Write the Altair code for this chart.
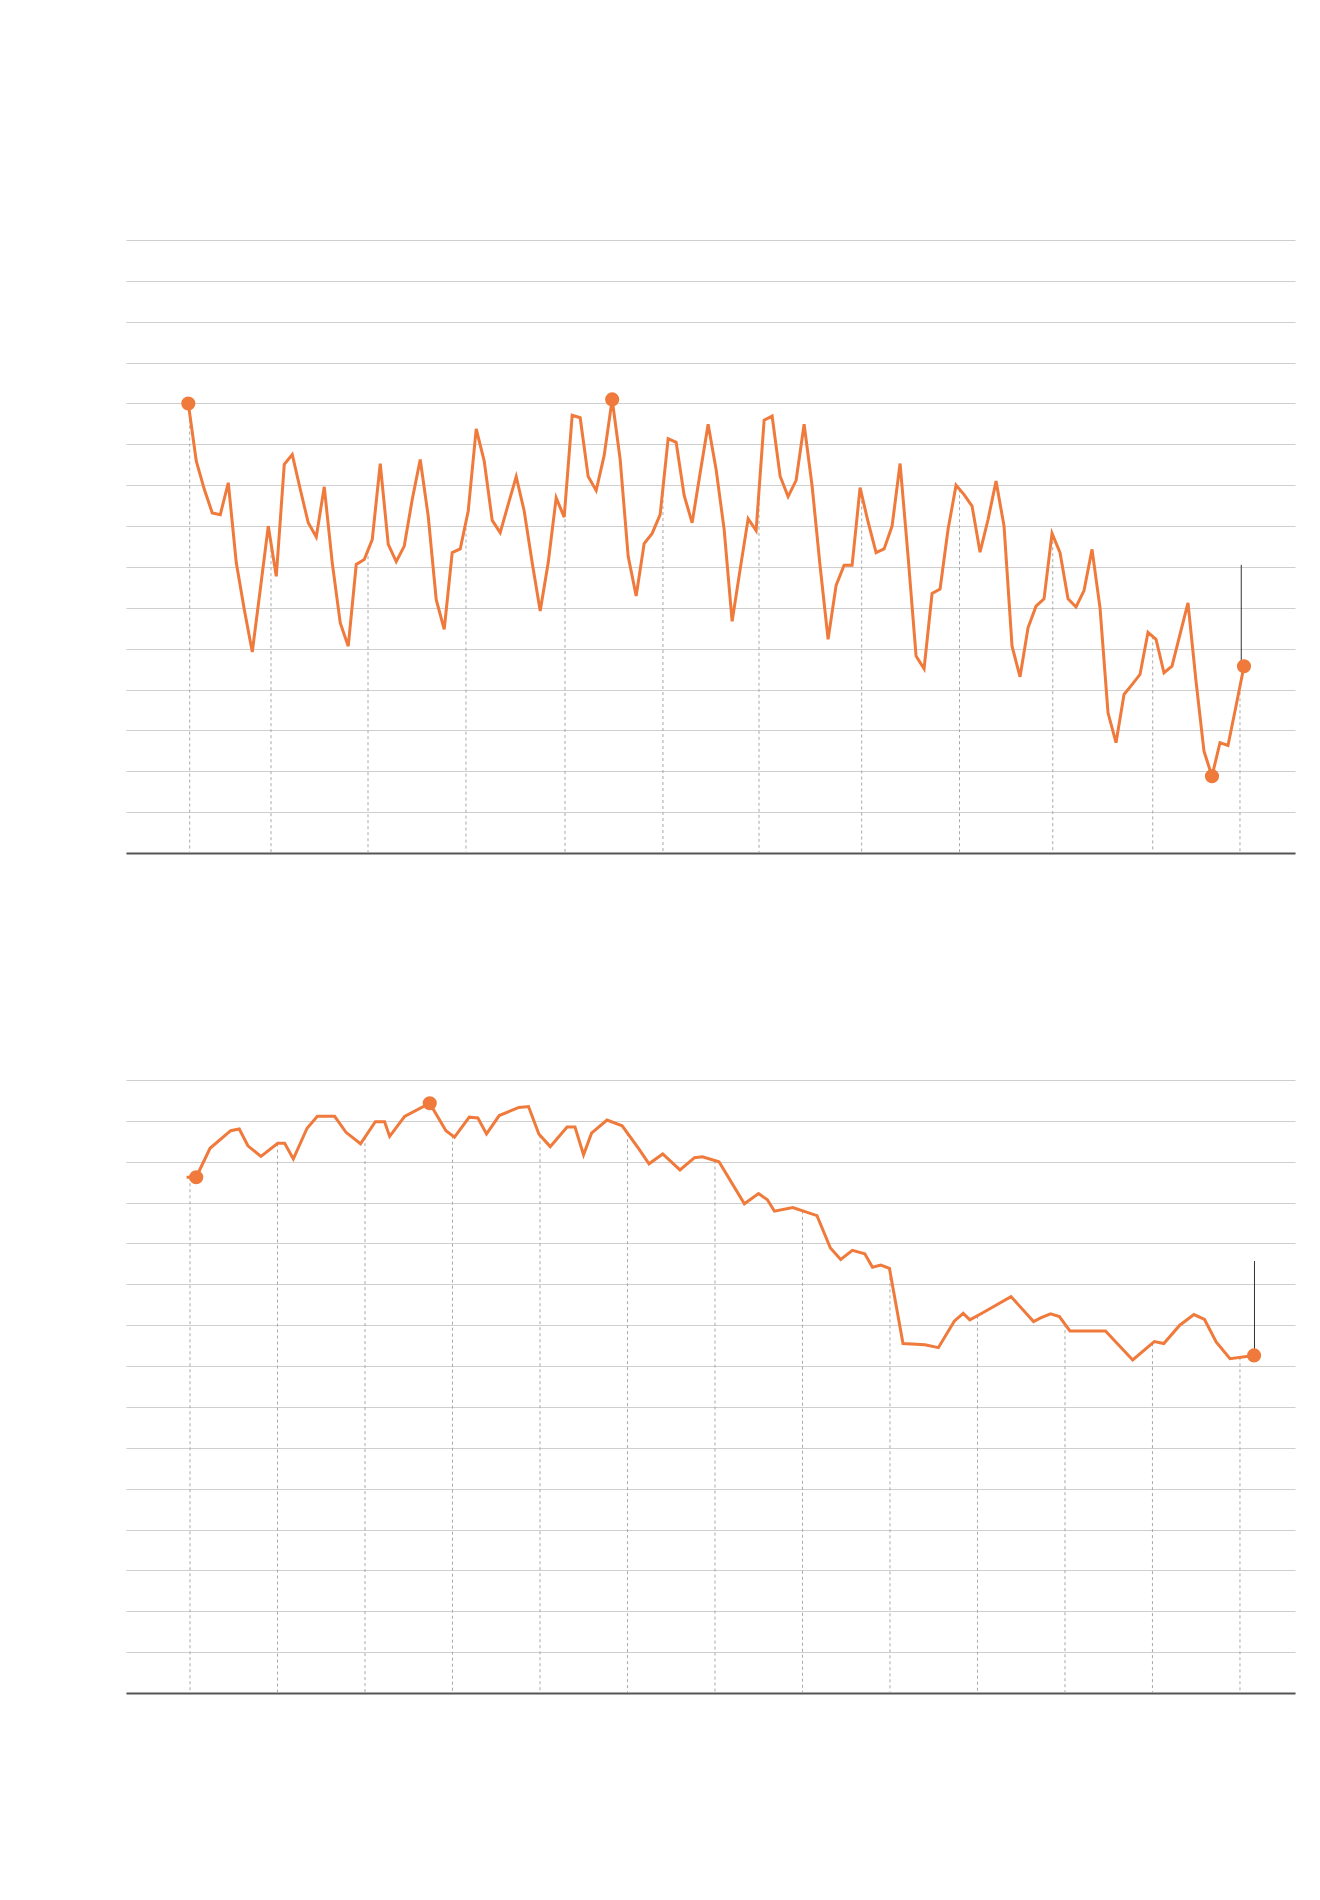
import altair as alt
import numpy as np
import pandas as pd

ORANGE = "#EF7A3B"

# ---------------- Top panel: monthly series (month index 0..132) ----------------
top_values = [
    11.0, 9.59, 8.90, 8.32, 8.28, 9.06, 7.10, 5.96, 4.92, 6.45,
    8.0, 6.77, 9.51, 9.75, 8.90, 8.08, 7.73, 8.96, 7.10, 5.63,
    5.06, 7.06, 7.18, 7.67, 9.53, 7.55, 7.13, 7.51, 8.65, 9.63,
    8.24, 6.20, 5.47, 7.35, 7.44, 8.37, 10.38, 9.59, 8.14, 7.84,
    8.53, 9.21, 8.37, 7.10, 5.92, 7.10, 8.69, 8.22, 10.71, 10.65,
    9.21, 8.87, 9.73, 11.10, 9.63, 7.26, 6.29, 7.57, 7.82, 8.28,
    10.14, 10.05, 8.75, 8.08, 9.3, 10.49, 9.38, 7.92, 5.67, 6.94,
    8.18, 7.89, 10.59, 10.69, 9.22, 8.72, 9.12, 10.49, 8.98, 7.02,
    5.23, 6.55, 7.04, 7.04, 8.94, 8.1, 7.35, 7.44, 8.0, 9.53,
    7.26, 4.82, 4.51, 6.35, 6.46, 7.92, 9.0, 8.77, 8.49, 7.36,
    8.16, 9.10, 8.0, 5.06, 4.31, 5.51, 6.04, 6.22, 7.82, 7.35,
    6.22, 6.02, 6.42, 7.43, 6.0, 3.43, 2.70, 3.88, 4.12, 4.37,
    5.40, 5.23, 4.41, 4.57, 5.35, 6.12, 4.21, 2.49, 1.88, 2.70,
    2.63, 3.59, 4.57,
]
top_months = list(range(len(top_values)))
top_ticks = [0.175, 10.34, 22.47, 34.72, 47.10, 59.35, 71.36, 84.2, 96.43, 108.09, 120.59, 131.5]
top_dots = [0, 53, 128, 132]
top_marker_x = 131.66
top_marker_range = [4.57, 7.05]
top_domain = [-7.79, 138.38]

# ---------------- Bottom panel: series on a yearly-tick axis ----------------
bot_t = [
    -0.039, 0.071, 0.229, 0.465, 0.563, 0.662, 0.811, 1.003, 1.082, 1.181,
    1.338, 1.456, 1.653, 1.783, 1.949, 2.118, 2.224, 2.282, 2.453, 2.74,
    2.925, 3.023, 3.192, 3.290, 3.389, 3.534, 3.759, 3.869, 3.987, 4.117,
    4.310, 4.400, 4.498, 4.589, 4.766, 4.939, 5.128, 5.246, 5.403, 5.600,
    5.766, 5.856, 6.046, 6.336, 6.498, 6.599, 6.680, 6.890, 7.166, 7.319,
    7.437, 7.570, 7.712, 7.800, 7.894, 7.994, 8.149, 8.399, 8.553, 8.735,
    8.837, 8.913, 9.066, 9.383, 9.641, 9.722, 9.835, 9.936, 10.057, 10.240,
    10.463, 10.774, 11.021, 11.130, 11.312, 11.474, 11.595, 11.728, 11.886, 12.161,
]
bot_values = [
    12.62, 12.62, 13.33, 13.76, 13.80, 13.39, 13.13, 13.45, 13.45, 13.07,
    13.82, 14.11, 14.11, 13.72, 13.44, 13.98, 13.98, 13.62, 14.11, 14.43,
    13.76, 13.60, 14.09, 14.07, 13.68, 14.13, 14.33, 14.35, 13.68, 13.37,
    13.85, 13.85, 13.17, 13.70, 14.02, 13.88, 13.32, 12.95, 13.19, 12.80,
    13.10, 13.12, 13.0, 11.97, 12.22, 12.07, 11.79, 11.88, 11.68, 10.89,
    10.61, 10.83, 10.75, 10.42, 10.47, 10.39, 8.55, 8.52, 8.45, 9.10,
    9.29, 9.13, 9.31, 9.70, 9.09, 9.18, 9.28, 9.21, 8.86, 8.86,
    8.86, 8.15, 8.60, 8.55, 9.0, 9.26, 9.14, 8.59, 8.18, 8.26,
]
bot_ticks = list(range(13))
bot_dots = [1, 19, 79]
bot_marker_x = 12.166
bot_marker_range = [8.26, 10.57]
bot_domain = [-0.7314, 12.629]

GRID_VALUES = list(range(16))
W, H = 1169, 613


def panel(xs, vs, ticks, dots, marker_x, marker_range, xdomain):
    line_df = pd.DataFrame({"x": xs, "v": vs})
    tick_df = pd.DataFrame({"x": ticks, "v": np.interp(ticks, xs, vs), "v0": 0.0})
    dot_df = line_df.iloc[dots]
    marker_df = pd.DataFrame({"x": [marker_x], "v": [marker_range[1]], "v0": [marker_range[0]]})

    xenc = alt.X(
        "x:Q",
        scale=alt.Scale(domain=xdomain, nice=False, zero=False),
        axis=alt.Axis(labels=False, ticks=False, grid=False, domain=True,
                      domainColor="#555555", domainWidth=2, title=None),
    )
    yenc = alt.Y(
        "v:Q",
        scale=alt.Scale(domain=[0, 15], nice=False, zero=True),
        axis=alt.Axis(values=GRID_VALUES, labels=False, ticks=False, domain=False,
                      grid=True, gridColor="#cfcfcf", gridWidth=1, title=None),
    )

    rules = alt.Chart(tick_df).mark_rule(
        color="#a8a8a8", strokeWidth=1, strokeDash=[3, 3]
    ).encode(x=xenc, y=yenc, y2="v0:Q")

    line = alt.Chart(line_df).mark_line(
        color=ORANGE, strokeWidth=3, strokeJoin="miter", interpolate="linear"
    ).encode(x=xenc, y=yenc)

    marker = alt.Chart(marker_df).mark_rule(color="#333333", strokeWidth=1).encode(
        x=xenc, y=yenc, y2="v0:Q"
    )

    points = alt.Chart(dot_df).mark_circle(color=ORANGE, size=200, opacity=1).encode(
        x=xenc, y=yenc
    )

    return alt.layer(rules, line, marker, points).properties(width=W, height=H)


top = panel(top_months, top_values, top_ticks, top_dots, top_marker_x, top_marker_range, top_domain)
bottom = panel(bot_t, bot_values, bot_ticks, bot_dots, bot_marker_x, bot_marker_range, bot_domain)

chart = alt.vconcat(top, bottom, spacing=226).properties(
    padding={"left": 118, "top": 232, "right": 10, "bottom": 10},
    background="white",
).configure_view(stroke=None)

chart.save("out.html", embed_options={"renderer": "svg", "actions": False})
